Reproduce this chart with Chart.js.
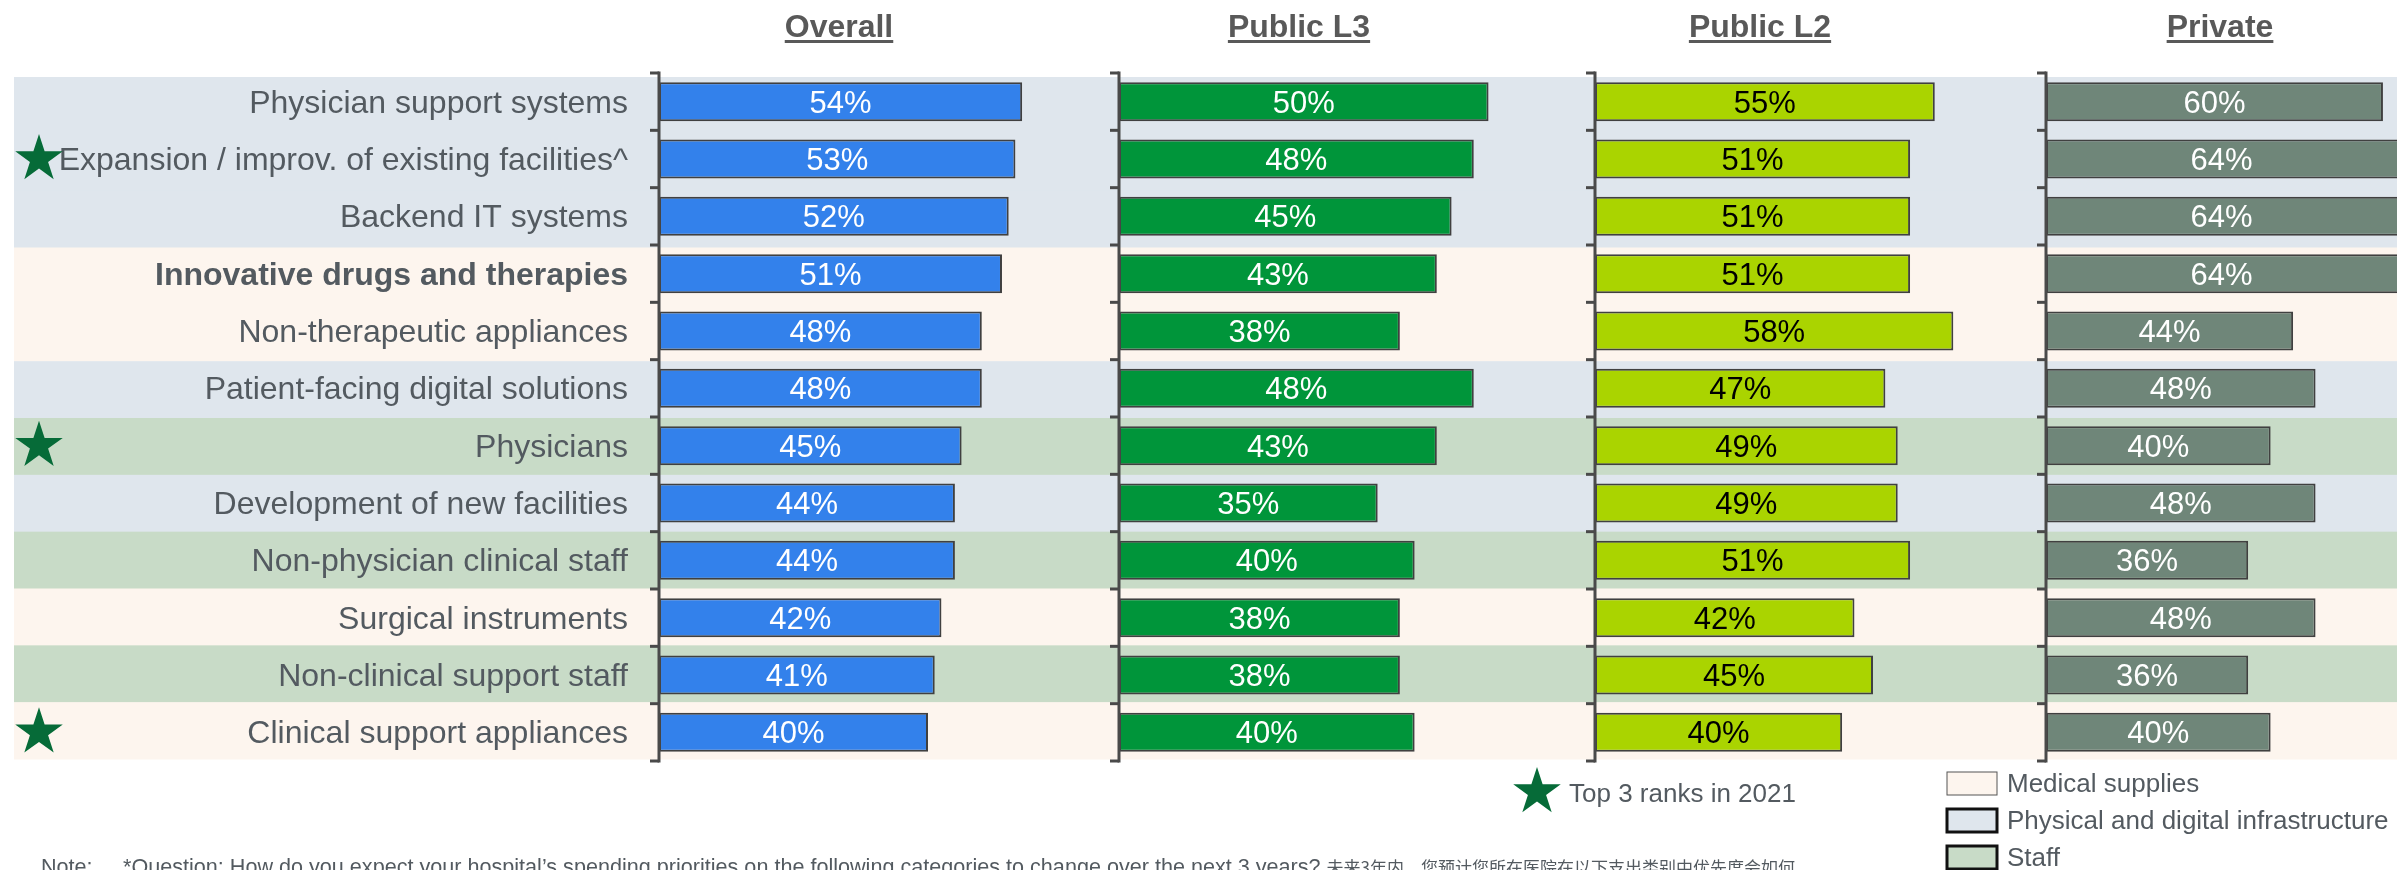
<!DOCTYPE html>
<html>
<head>
<meta charset="utf-8">
<script src="https://cdn.jsdelivr.net/npm/chart.js@4.4.1/dist/chart.umd.min.js"></script>
<style>
  html, body { margin: 0; padding: 0; background: #fff; overflow: hidden; }
  #chart { display: block; }
</style>
</head>
<body>
<canvas id="chart" width="2397" height="870"></canvas>
<script>
// categories, top to bottom
const categories = [
    'Physician support systems',
    'Expansion / improv. of existing facilities^',
    'Backend IT systems',
    'Innovative drugs and therapies',
    'Non-therapeutic appliances',
    'Patient-facing digital solutions',
    'Physicians',
    'Development of new facilities',
    'Non-physician clinical staff',
    'Surgical instruments',
    'Non-clinical support staff',
    'Clinical support appliances'
];
const groups = ['infra', 'infra', 'infra', 'med', 'med', 'infra', 'staff', 'infra', 'staff', 'med', 'staff', 'med'];
const starred = [false, true, false, false, false, false, true, false, false, false, false, true];
const boldRows = [3];

// series values (%)
const panelTitles = ['Overall', 'Public L3', 'Public L2', 'Private'];
const overall   = [54, 53, 52, 51, 48, 48, 45, 44, 44, 42, 41, 40];
const publicL3  = [50, 48, 45, 43, 38, 48, 43, 35, 40, 38, 38, 40];
const publicL2  = [55, 51, 51, 51, 58, 47, 49, 49, 51, 42, 45, 40];
const privateH  = [60, 64, 64, 64, 44, 48, 40, 48, 36, 48, 36, 40];
const seriesValues = [overall, publicL3, publicL2, privateH];

// each panel has its own value axis
const panelMax = [68.4, 64.4, 73, 62.5];
const panelWidths = [460, 476, 451, 351];
const titleOffsets = [180, 180, 165, 174];

const barColors = ['#3381EB', '#00953A', '#AAD400', '#6F8679'];
const valueColors = ['#ffffff', '#ffffff', '#000000', '#ffffff'];
const groupColors = { med: '#FDF5EE', infra: '#DFE6ED', staff: '#C8DBC7' };
const legendItems = [['Medical supplies', 'med'], ['Physical and digital infrastructure', 'infra'], ['Staff', 'staff']];
const starLegend = 'Top 3 ranks in 2021';
const noteLabel = 'Note:';
const noteText = '*Question: How do you expect your hospital\u2019s spending priorities on the following categories to change over the next 3 years? ';
const noteTextCn = '未来3年内、您预计您所在医院在以下支出类别中优先度会如何';

const FONT = '"Liberation Sans", Arial, sans-serif';
const TEXT_GRAY = '#535a60';
const STAR_GREEN = '#066B38';

function drawStar(ctx, cx, cy, r, color) {
    const inner = r * 0.382;
    ctx.beginPath();
    for (let i = 0; i < 10; i++) {
        const rad = i % 2 === 0 ? r : inner;
        const a = -Math.PI / 2 + i * Math.PI / 5;
        const x = cx + rad * Math.cos(a);
        const y = cy + rad * Math.sin(a);
        if (i === 0) ctx.moveTo(x, y); else ctx.lineTo(x, y);
    }
    ctx.closePath();
    ctx.fillStyle = color;
    ctx.fill();
}

function boundaries(yScale) {
    const out = [];
    for (let i = 0; i <= categories.length; i++) out.push(yScale.getPixelForValue(i - 0.5));
    return out;
}

/**
 * Row bands, axis brackets, labels, value labels, stars, titles, legend and note
 */
const panelPlugin = {
    id: 'panels',
    beforeDraw(chart) {
        const ctx = chart.ctx;
        const b = boundaries(chart.scales.y);
        // bands sit slightly inside the bracket ends
        const top = b[0] + 4;
        const step = (b[b.length - 1] - 2 - top) / categories.length;
        ctx.save();
        groups.forEach((g, i) => {
            ctx.fillStyle = groupColors[g];
            ctx.fillRect(14, top + i * step, chart.width - 14, step + 0.5);
        });

        // category labels
        const yScale = chart.scales.y;
        ctx.fillStyle = TEXT_GRAY;
        ctx.textAlign = 'right';
        ctx.textBaseline = 'alphabetic';
        categories.forEach((c, i) => {
            ctx.font = (boldRows.includes(i) ? 'bold ' : '') + '32px ' + FONT;
            ctx.fillText(c, yScale.right - 31, yScale.getPixelForValue(i) + 11);
        });
        ctx.restore();
    },
    afterDatasetsDraw(chart) {
        const ctx = chart.ctx;
        const b = boundaries(chart.scales.y);
        ctx.save();

        // axis brackets
        ctx.strokeStyle = '#4a4a4a';
        ctx.lineWidth = 3;
        seriesValues.forEach((_, p) => {
            const x = chart.scales['x' + p].left;
            ctx.beginPath();
            ctx.moveTo(x, b[0] - 1.5);
            ctx.lineTo(x, b[b.length - 1] + 1.5);
            ctx.stroke();
            b.forEach(y => {
                ctx.beginPath();
                ctx.moveTo(x - 9, y);
                ctx.lineTo(x, y);
                ctx.stroke();
            });
        });

        // value labels
        ctx.font = '31px ' + FONT;
        ctx.textAlign = 'center';
        ctx.textBaseline = 'alphabetic';
        seriesValues.forEach((vals, p) => {
            const meta = chart.getDatasetMeta(p);
            ctx.fillStyle = valueColors[p];
            meta.data.forEach((bar, i) => {
                const cx = (bar.base + Math.min(bar.x, chart.width)) / 2;
                ctx.fillText(vals[i] + '%', cx, bar.y + 11);
            });
        });
        ctx.restore();
    },
    afterDraw(chart) {
        const ctx = chart.ctx;
        const yScale = chart.scales.y;
        ctx.save();

        // stars for top 3 in 2021
        starred.forEach((s, i) => {
            if (s) drawStar(ctx, 39, yScale.getPixelForValue(i), 25, STAR_GREEN);
        });

        // panel titles
        ctx.font = 'bold 32px ' + FONT;
        ctx.fillStyle = '#595959';
        ctx.textAlign = 'center';
        ctx.textBaseline = 'alphabetic';
        panelTitles.forEach((t, p) => {
            const cx = chart.scales['x' + p].left + titleOffsets[p];
            ctx.fillText(t, cx, 37);
            const w = ctx.measureText(t).width;
            ctx.fillRect(cx - w / 2, 40, w, 3);
        });

        // star legend
        drawStar(ctx, 1537, 792, 25, STAR_GREEN);
        ctx.font = '26px ' + FONT;
        ctx.fillStyle = TEXT_GRAY;
        ctx.textAlign = 'left';
        ctx.textBaseline = 'middle';
        ctx.fillText(starLegend, 1569, 795);

        // group legend
        legendItems.forEach(([label, key], i) => {
            const top = 772 + i * 37;
            ctx.fillStyle = groupColors[key];
            ctx.fillRect(1947, top, 50, 23);
            ctx.strokeStyle = i === 0 ? '#555' : '#111';
            ctx.lineWidth = i === 0 ? 1 : 3;
            ctx.strokeRect(1947, top, 50, 23);
            ctx.fillStyle = TEXT_GRAY;
            ctx.fillText(label, 2007, top + 13);
        });

        // note (cut off by the bottom edge)
        ctx.textBaseline = 'alphabetic';
        ctx.font = '21.6px ' + FONT;
        ctx.fillText(noteLabel, 41, 874);
        ctx.fillText(noteText, 123, 874);
        const w = ctx.measureText(noteText).width;
        ctx.font = '17px "Noto Sans CJK SC", sans-serif';
        ctx.fillText(noteTextCn, 123 + w, 874);
        ctx.restore();
    }
};

function initChart() {
    const ctx = document.getElementById('chart').getContext('2d');

    const datasets = seriesValues.map((vals, p) => ({
        label: panelTitles[p],
        data: vals,
        xAxisID: 'x' + p,
        yAxisID: 'y',
        backgroundColor: barColors[p],
        borderColor: '#404040',
        borderWidth: 2,
        borderSkipped: false,
        grouped: false,
        barPercentage: 0.68,
        categoryPercentage: 1
    }));

    const scales = {
        y: {
            type: 'category',
            labels: categories,
            position: 'left',
            offset: true,
            grid: { display: false },
            border: { display: false },
            ticks: { display: false },
            afterFit(scale) { scale.width = 659; }
        }
    };
    seriesValues.forEach((_, p) => {
        scales['x' + p] = {
            type: 'linear',
            position: 'bottom',
            stack: 'panels',
            stackWeight: panelWidths[p],
            min: 0,
            max: panelMax[p],
            display: false,
            grid: { display: false }
        };
    });

    new Chart(ctx, {
        type: 'bar',
        data: { labels: categories, datasets },
        options: {
            indexAxis: 'y',
            responsive: false,
            devicePixelRatio: 1,
            animation: false,
            layout: { padding: { top: 73, bottom: 109, left: 0, right: 0 } },
            plugins: {
                legend: { display: false },
                tooltip: { enabled: false }
            },
            scales
        },
        plugins: [panelPlugin]
    });
}

document.addEventListener('DOMContentLoaded', initChart);
</script>
</body>
</html>
